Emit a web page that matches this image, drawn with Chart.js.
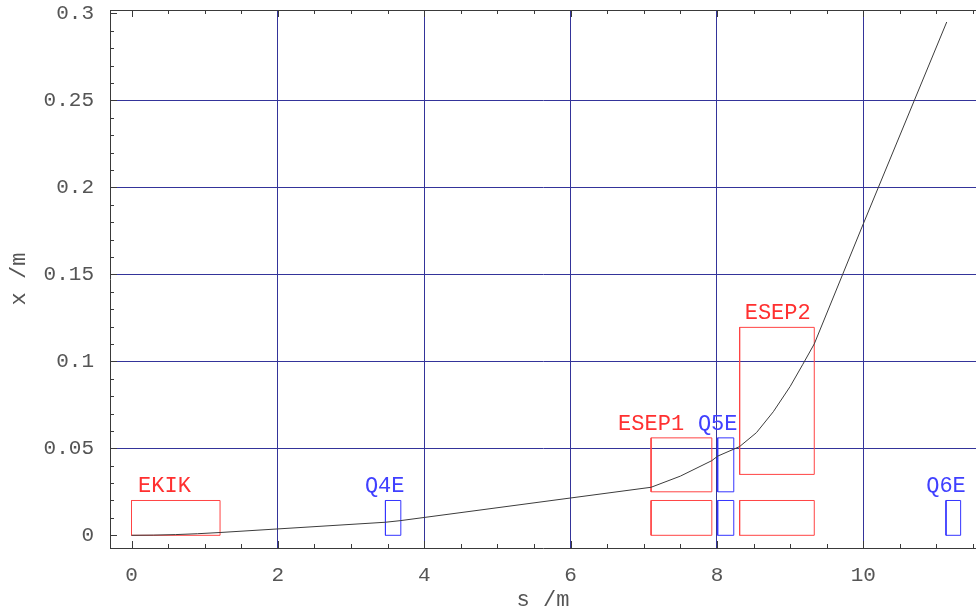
<!DOCTYPE html>
<html><head><meta charset="utf-8">
<script src="https://cdn.jsdelivr.net/npm/chart.js@4"></script>
<style>html,body{margin:0;padding:0;background:#fff;overflow:hidden}#wrap{width:976px;height:614px}</style>
</head><body><div id="wrap"><canvas id="c" width="976" height="614"></canvas></div>
<script>
// ---- data ----
const orbitS = [0, 0.3, 0.6, 0.9, 1.21, 3.47, 3.67, 7.10, 7.5, 7.93, 8.01, 8.23, 8.31, 8.54, 8.77, 9.0, 9.17, 9.33, 10.0, 11.14];
const orbitX = [0, 0.0001, 0.0004, 0.0009, 0.0016, 0.0075, 0.0084, 0.0276, 0.034, 0.0429, 0.0455, 0.0495, 0.051, 0.059, 0.071, 0.0855, 0.098, 0.110, 0.179, 0.295];

const elemNames = ['EKIK', 'Q4E', 'ESEP1', 'Q5E', 'ESEP2', 'Q6E'];
const elemKind  = ['red', 'blue', 'red', 'blue', 'red', 'blue'];
const elemStart = [0, 3.47, 7.10, 8.01, 8.31, 11.13];
const elemEnd   = [1.21, 3.68, 7.93, 8.23, 9.33, 11.33];
const elemApertures = [
  [[0, 0.02]],
  [[0, 0.02]],
  [[0, 0.02], [0.025, 0.056]],
  [[0, 0.02], [0.025, 0.056]],
  [[0, 0.02], [0.035, 0.1195]],
  [[0, 0.02]]
];
const elemLabelS = [0.45, 3.46, 7.10, 8.01, 8.83, 11.13];

const xTicks = [0, 2, 4, 6, 8, 10];
const yTicks = [0, 0.05, 0.1, 0.15, 0.2, 0.25, 0.3];
const yTickLabels = ['0', '0.05', '0.1', '0.15', '0.2', '0.25', '0.3'];
const xGridValues = [2, 4, 6, 8, 10];
const yGridValues = [0.05, 0.1, 0.15, 0.2, 0.25];

// ---- styles ----
const FONT = "'Liberation Mono', 'DejaVu Sans Mono', monospace";
const gridColor = '#34349a';
const axisColor = '#3a3a3a';
const textColor = '#555555';
const boxColors = { red: '#ff4444', blue: '#3535ff' };
const labelColors = { red: '#ff3030', blue: '#4040ff' };

const datasets = [];
datasets.push({
  label: 'orbit',
  data: orbitS.map((s, i) => ({ x: s, y: orbitX[i] })),
  showLine: true, borderColor: '#3c3c3c', borderWidth: 1, pointRadius: 0, tension: 0, order: 0
});
elemNames.forEach((n, i) => {
  elemApertures[i].forEach(ap => {
    const s0 = elemStart[i], s1 = elemEnd[i];
    datasets.push({
      label: n,
      data: [{x:s0,y:ap[0]},{x:s1,y:ap[0]},{x:s1,y:ap[1]},{x:s0,y:ap[1]},{x:s0,y:ap[0]}],
      showLine: true, borderColor: boxColors[elemKind[i]], borderWidth: 1, pointRadius: 0,
      tension: 0, borderJoinStyle: 'miter', order: 1
    });
  });
});

const deco = {
  id: 'deco',
  afterDatasetsDraw(chart) {
    const { ctx, chartArea: a, scales: { x, y } } = chart;
    ctx.save();
    ctx.strokeStyle = axisColor; ctx.lineWidth = 1;
    ctx.beginPath();
    ctx.moveTo(a.left, a.top + 0.5); ctx.lineTo(a.right, a.top + 0.5);
    for (let k = 0; k <= 23; k++) {
      const v = k * 0.5;
      const px = Math.round(x.getPixelForValue(v)) + 0.5;
      if (px > a.right) continue;
      const L = (k % 4 === 0) ? 7 : 4;
      ctx.moveTo(px, a.bottom); ctx.lineTo(px, a.bottom - L);
      ctx.moveTo(px, a.top); ctx.lineTo(px, a.top + L);
    }
    for (let k = 0; k <= 30; k++) {
      const py = Math.round(y.getPixelForValue(k / 100)) + 0.5;
      const L = (k % 5 === 0) ? 7 : 4;
      ctx.moveTo(a.left, py); ctx.lineTo(a.left + L, py);
    }
    ctx.stroke();
    ctx.font = '22px ' + FONT;
    ctx.textAlign = 'center';
    ctx.textBaseline = 'alphabetic';
    elemNames.forEach((n, i) => {
      const top = Math.max(...elemApertures[i].map(ap => ap[1]));
      ctx.fillStyle = labelColors[elemKind[i]];
      ctx.fillText(n, x.getPixelForValue(elemLabelS[i]), y.getPixelForValue(top) - 8);
    });
    ctx.restore();
  }
};

new Chart(document.getElementById('c'), {
  type: 'scatter',
  data: { datasets },
  plugins: [deco],
  options: {
    responsive: false, animation: false, devicePixelRatio: 1,
    layout: { padding: { top: 10, left: 0, right: 0, bottom: 0 } },
    plugins: { legend: { display: false }, tooltip: { enabled: false } },
    scales: {
      x: {
        type: 'linear', min: -0.294, max: 11.54,
        afterBuildTicks: s => { s.ticks = xTicks.map(v => ({ value: v })); },
        afterFit: s => { s.height = 66; s.paddingLeft = 0; s.paddingRight = 0; },
        ticks: { callback: v => String(v), font: { family: FONT, size: 21 }, color: textColor, padding: 15, maxRotation: 0, autoSkip: false },
        grid: { color: c => (c.tick && xGridValues.includes(c.tick.value)) ? gridColor : 'rgba(0,0,0,0)', drawTicks: false, lineWidth: 1 },
        border: { display: true, color: axisColor, width: 1 },
        title: { display: true, text: 's /m', font: { family: FONT, size: 22, lineHeight: 1.2 }, color: textColor, padding: { top: 0, bottom: 1 } }
      },
      y: {
        type: 'linear', min: -0.0073, max: 0.3019,
        afterBuildTicks: s => { s.ticks = yTicks.map(v => ({ value: v })); },
        afterFit: s => { s.width = 110; s.paddingTop = 0; s.paddingBottom = 0; },
        ticks: { callback: (v) => { const i = yTicks.findIndex(t => Math.abs(t - v) < 1e-9); return i >= 0 ? yTickLabels[i] : ''; }, font: { family: FONT, size: 21 }, color: textColor, padding: 16, autoSkip: false },
        grid: { color: c => (c.tick && yGridValues.some(g => Math.abs(g - c.tick.value) < 1e-9)) ? gridColor : 'rgba(0,0,0,0)', drawTicks: false, lineWidth: 1 },
        border: { display: true, color: axisColor, width: 1 },
        title: { display: true, text: 'x /m', font: { family: FONT, size: 22, lineHeight: 1.2 }, color: textColor, padding: { top: 6, bottom: 0 } }
      }
    }
  }
});
</script>
</body></html>
